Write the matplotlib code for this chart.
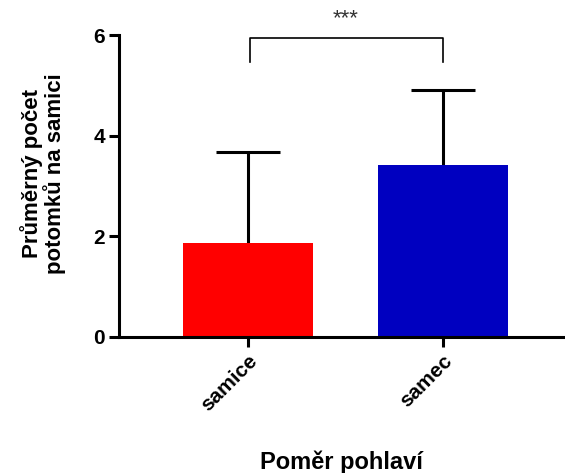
import matplotlib
matplotlib.use("Agg")
import matplotlib.pyplot as plt
import numpy as np

plt.rcParams["font.family"] = ["Liberation Sans", "DejaVu Sans"]

categories = ["samice", "samec"]
means = [1.87, 3.42]
sd = [1.81, 1.49]
bar_colors = ["#ff0000", "#0000c0"]
significance = "***"

fig = plt.figure(figsize=(5.65, 4.73), dpi=100)
ax = fig.add_axes([119 / 565, 1 - 337 / 473, (564 - 119) / 565, (337 - 35) / 473])

x = np.arange(len(categories))
ax.bar(x, means, width=0.667, color=bar_colors, zorder=2)
# upper error bars only
_, caps, _ = ax.errorbar(x, means, yerr=[np.zeros(len(sd)), sd], fmt="none",
                         ecolor="black", elinewidth=2.2, capsize=23,
                         capthick=2.2, zorder=1)
caps[0].set_visible(False)

ax.set_xlim(-0.662, 1.62)
ax.set_ylim(0, 6)
ax.set_yticks([0, 2, 4, 6])
ax.set_xticks(x)
ax.set_xticklabels(categories, rotation=45, ha="right", rotation_mode="anchor",
                   fontweight="bold", fontsize=15)
for lab in ax.get_yticklabels():
    lab.set_fontweight("bold")
    lab.set_fontsize(15)

for side in ["top", "right"]:
    ax.spines[side].set_visible(False)
for side in ["left", "bottom"]:
    ax.spines[side].set_linewidth(2.2)
ax.tick_params(width=2.2, length=7, pad=3)

# significance bracket
y_top, y_leg = 5.94, 5.47
ax.plot([x[0] + 0.01, x[0] + 0.01, x[1], x[1]], [y_leg, y_top, y_top, y_leg],
        color="black", lw=1.2, clip_on=False)
ax.text((x[0] + x[1]) / 2, 6.22, significance, ha="center", va="baseline",
        fontsize=16, color="#333333", clip_on=False)

ax.set_ylabel("Průměrný počet\npotomků na samici", fontsize=16, fontweight="bold",
              linespacing=1.05)
ax.yaxis.set_label_coords(-0.118, 0.54)
ax.set_xlabel("Poměr pohlaví", fontsize=17, fontweight="bold", labelpad=26)

fig.savefig("out.png", dpi=100)
